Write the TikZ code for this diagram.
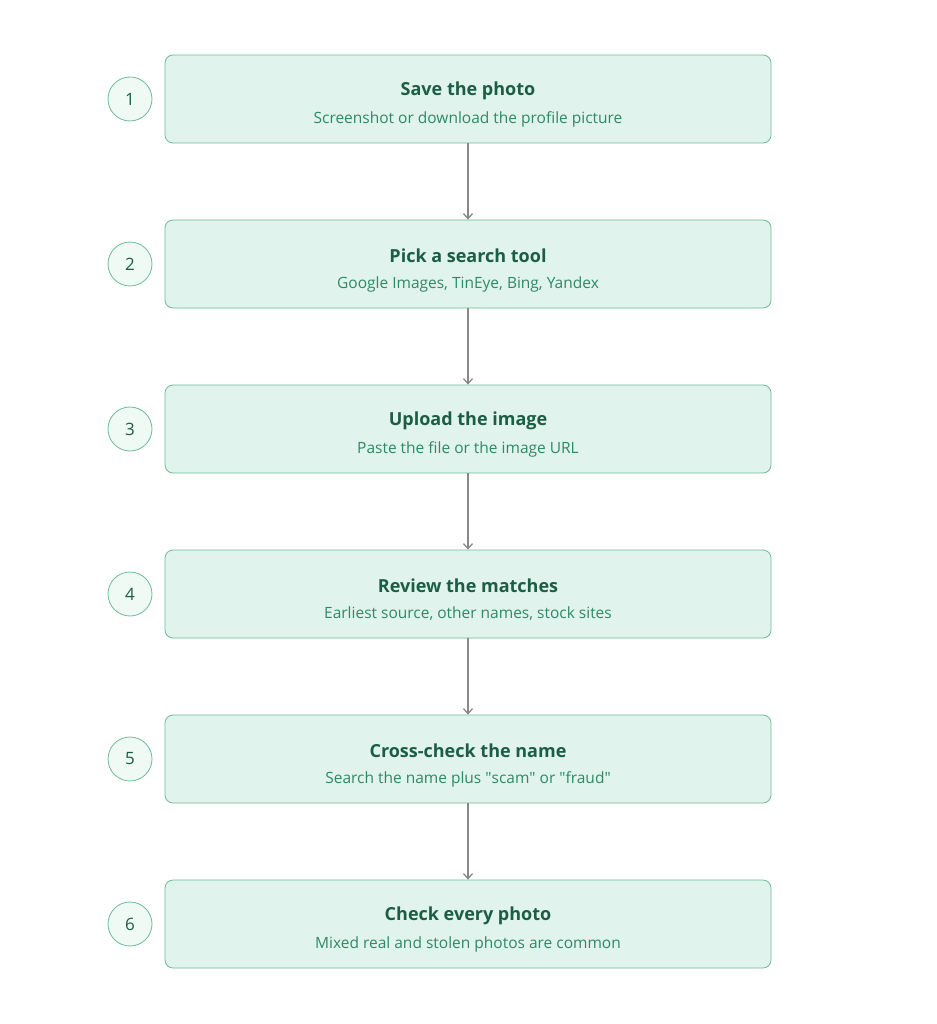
\documentclass[tikz,border=0pt]{standalone}
\usepackage{fontspec}
\usetikzlibrary{arrows.meta}
\setmainfont{Open Sans}
\definecolor{boxfill}{HTML}{E0F3EC}
\definecolor{boxline}{HTML}{6DBB98}
\definecolor{titlec}{HTML}{1B5E45}
\definecolor{subc}{HTML}{2E8A66}
\definecolor{circfill}{HTML}{F0FAF5}
\definecolor{arrowc}{HTML}{888888}
\begin{document}
\begin{tikzpicture}[x=1pt,y=-1pt,
  box/.style={draw=boxline,fill=boxfill,rounded corners=8pt,minimum width=606pt,minimum height=88pt,line width=0.8pt},
  circ/.style={circle,draw=boxline,fill=circfill,minimum size=44pt,line width=0.8pt,inner sep=0pt,text=titlec,font=\fontsize{17}{20}\selectfont},
  ttl/.style={text=titlec,font=\fontsize{18}{21}\selectfont\bfseries},
  sub/.style={text=subc,font=\fontsize{15.5}{18}\selectfont},
  arr/.style={draw=arrowc,line width=1.3pt,-{Straight Barb[length=5pt,width=9pt]}}]
\useasboundingbox (0,0) rectangle (936,1024);
\foreach \i/\t/\s [count=\n] in {
  1/Save the photo/Screenshot or download the profile picture,
  2/Pick a search tool/{Google Images, TinEye, Bing, Yandex},
  3/Upload the image/Paste the file or the image URL,
  4/Review the matches/{Earliest source, other names, stock sites},
  5/Cross-check the name/Search the name plus \textquotedbl scam\textquotedbl{} or \textquotedbl fraud\textquotedbl,
  6/Check every photo/Mixed real and stolen photos are common}{
  \pgfmathsetmacro\yy{99+165*(\n-1)}
  \node[box] (b\n) at (468,\yy) {};
  \node[circ] (c\n) at (130,\yy) {\i};
  \node[ttl] (t\n) at (468,\yy-8) {\t};
  \node[sub] (s\n) at (468,\yy+20) {\s};
}
\foreach \a/\b in {1/2,2/3,3/4,4/5,5/6}{
  \draw[arr] (b\a.south) -- (b\b.north);
}
\end{tikzpicture}
\end{document}
